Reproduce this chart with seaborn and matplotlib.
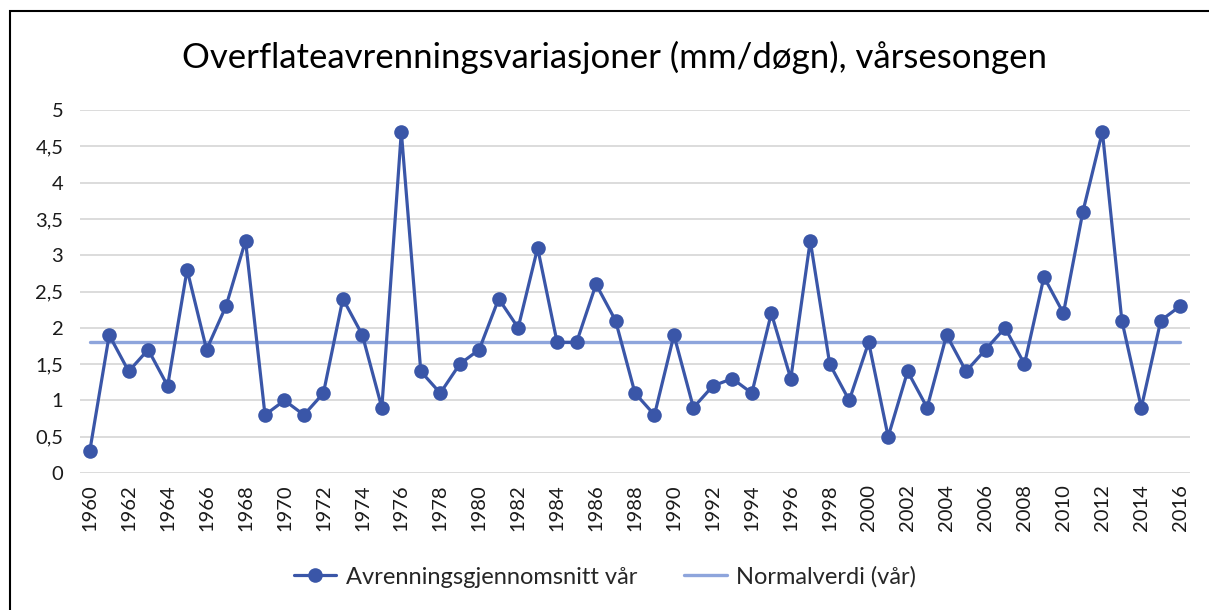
import numpy as np
import pandas as pd
import matplotlib
matplotlib.use("Agg")
import matplotlib.pyplot as plt
import seaborn as sns
from matplotlib.patches import Rectangle

years = list(range(1960, 2017))
runoff = [0.3, 1.9, 1.4, 1.7, 1.2, 2.8, 1.7, 2.3, 3.2, 0.8,
          1.0, 0.8, 1.1, 2.4, 1.9, 0.9, 4.7, 1.4, 1.1, 1.5,
          1.7, 2.4, 2.0, 3.1, 1.8, 1.8, 2.6, 2.1, 1.1, 0.8,
          1.9, 0.9, 1.2, 1.3, 1.1, 2.2, 1.3, 3.2, 1.5, 1.0,
          1.8, 0.5, 1.4, 0.9, 1.9, 1.4, 1.7, 2.0, 1.5, 2.7,
          2.2, 3.6, 4.7, 2.1, 0.9, 2.1, 2.3]
normal_value = 1.8
y_ticks = [0, 0.5, 1, 1.5, 2, 2.5, 3, 3.5, 4, 4.5, 5]
y_tick_labels = ["0", "0,5", "1", "1,5", "2", "2,5", "3", "3,5", "4", "4,5", "5"]

title = "Overflateavrenningsvariasjoner (mm/døgn), vårsesongen"
series_label = "Avrenningsgjennomsnitt vår"
normal_label = "Normalverdi (vår)"

df = pd.DataFrame({"pos": np.arange(len(years)), "year": years, "runoff": runoff,
                   "normal": [normal_value] * len(years)})

sns.set_theme(style="white")
plt.rcParams["font.family"] = ["Lato", "DejaVu Sans"]

W, H = 1209, 610
fig = plt.figure(figsize=(W / 100, H / 100), dpi=100)
ax = fig.add_axes([80 / W, 1 - 473 / H, 1110 / W, 363 / H])

dark_blue = "#3A56A8"
light_blue = "#8EA5DC"

sns.lineplot(data=df, x="pos", y="normal", ax=ax, color=light_blue, linewidth=2.4,
             label=normal_label, zorder=2)
sns.lineplot(data=df, x="pos", y="runoff", ax=ax, color=dark_blue, linewidth=2.3,
             marker="o", markersize=10.5, markeredgewidth=0, label=series_label, zorder=3)

ax.set_xlim(-0.5, len(years) - 0.5)
ax.set_ylim(0, 5)
ax.set_yticks(y_ticks)
ax.set_yticklabels(y_tick_labels)
ax.set_xticks(df["pos"][::2])
ax.set_xticklabels([str(y) for y in years[::2]], rotation=90)
ax.tick_params(axis="both", length=0, labelsize=14.5, colors="#1a1a1a")
ax.tick_params(axis="y", pad=12)
ax.tick_params(axis="x", pad=8)
ax.set_xlabel("")
ax.set_ylabel("")
ax.grid(axis="y", color="#d9d9d9", linewidth=1.3)
ax.set_axisbelow(True)
for s in ax.spines.values():
    s.set_visible(False)

handles, labels = ax.get_legend_handles_labels()
order = [labels.index(series_label), labels.index(normal_label)]
ax.legend([handles[i] for i in order], [labels[i] for i in order],
          loc="center", bbox_to_anchor=(605 / W, 1 - 577 / H), bbox_transform=fig.transFigure,
          ncol=2, frameon=False, fontsize=17, handlelength=1.8, handletextpad=0.4,
          columnspacing=2.0)

fig.text(614 / W, 1 - 57 / H, title, ha="center", va="center", fontsize=25, color="#000000")

fig.add_artist(Rectangle((10 / W, -0.05), 1.2, 1 - 11 / H + 0.05, transform=fig.transFigure,
                         fill=False, edgecolor="black", linewidth=1.5))

fig.savefig("out.png", dpi=100, facecolor="white")
